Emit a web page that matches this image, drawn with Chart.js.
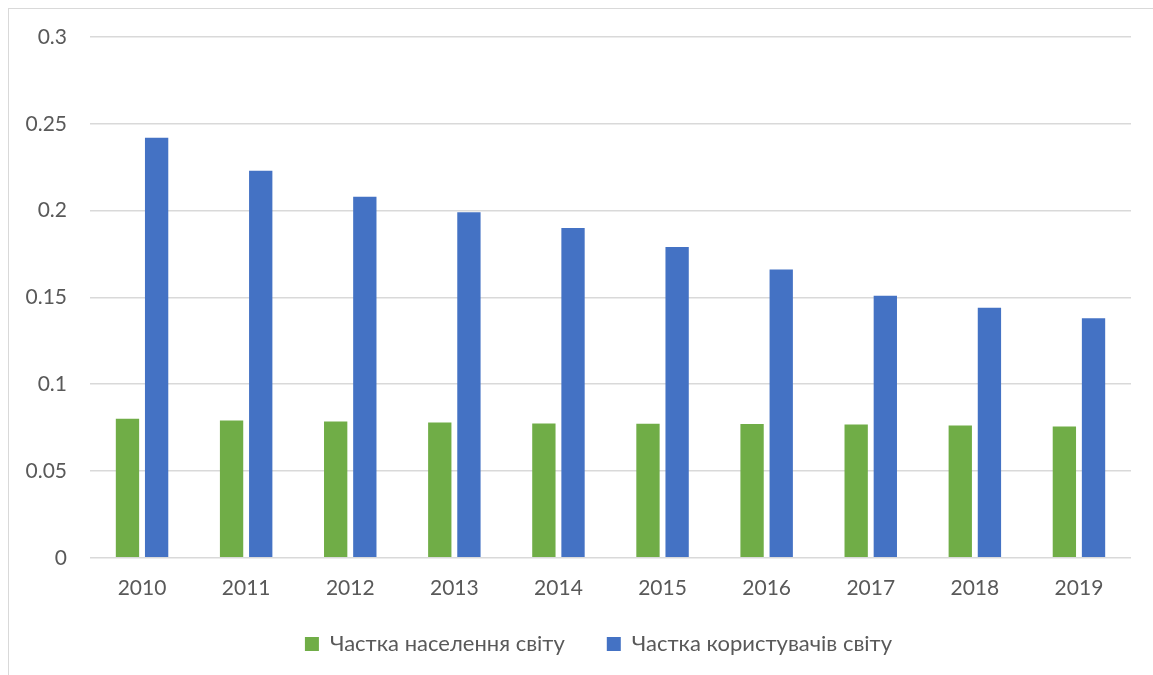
<!DOCTYPE html>
<html lang="uk">
<head>
  <meta charset="UTF-8">
  <title>Частка населення та користувачів світу</title>
  <script src="https://cdn.jsdelivr.net/npm/chart.js"></script>
  <style>
    html, body {
      margin: 0;
      padding: 0;
      background: #ffffff;
      overflow: hidden;
    }

    .frame {
      position: absolute;
      left: 8px;
      top: 8px;
      width: 1160px;
      height: 680px;
      border: 1px solid #d9d9d9;
    }

    .chart-container {
      position: absolute;
      left: 0;
      top: 0;
      width: 1153px;
      height: 675px;
    }
  </style>
</head>
<body>
  <div class="frame"></div>
  <div class="chart-container">
    <canvas id="barChart"></canvas>
  </div>

  <script>
    // Years on the x axis
    const years = ["2010", "2011", "2012", "2013", "2014", "2015", "2016", "2017", "2018", "2019"];

    // Share of world population (green)
    const populationShare = [0.0801, 0.0791, 0.0785, 0.0780, 0.0774, 0.0772, 0.0771, 0.0768, 0.0762, 0.0756];

    // Share of world users (blue)
    const usersShare = [0.242, 0.223, 0.208, 0.199, 0.190, 0.179, 0.166, 0.151, 0.144, 0.138];

    // Y axis ticks as shown in the picture
    const yTicks = [0, 0.05, 0.1, 0.15, 0.2, 0.25, 0.3];

    const seriesNames = ["Частка населення світу", "Частка користувачів світу"];

    const textColor = "#595959";
    const gridColor = "#d9d9d9";
    const fontFamily = "Lato, 'Open Sans', sans-serif";

    // nudge the legend up and to the right, closer to where Excel puts it
    const legendShift = {
      id: "legendShift",
      afterLayout(chart) {
        const lg = chart.legend;
        lg.top -= 20;
        lg.bottom -= 20;
        lg.left += 33;
        lg.right += 33;
      }
    };

    const ctx = document.getElementById("barChart").getContext("2d");

    new Chart(ctx, {
      type: "bar",
      data: {
        labels: years,
        datasets: [
          {
            label: seriesNames[0],
            data: populationShare,
            backgroundColor: "#70ad47",
            categoryPercentage: 0.56,
            barPercentage: 0.8
          },
          {
            label: seriesNames[1],
            data: usersShare,
            backgroundColor: "#4472c4",
            categoryPercentage: 0.56,
            barPercentage: 0.8
          }
        ]
      },
      options: {
        responsive: true,
        maintainAspectRatio: false,
        animation: false,
        layout: {
          padding: { left: 0, right: 22, top: 37, bottom: -10 }
        },
        plugins: {
          legend: {
            position: "bottom",
            labels: {
              boxWidth: 14,
              boxHeight: 14,
              padding: 42,
              color: textColor,
              font: { family: fontFamily, size: 22 }
            }
          },
          tooltip: { enabled: false }
        },
        scales: {
          x: {
            grid: { display: false },
            border: { display: false },
            ticks: {
              color: textColor,
              padding: 10,
              font: { family: fontFamily, size: 21 }
            }
          },
          y: {
            min: 0,
            max: 0.3,
            afterBuildTicks: function(scale) {
              scale.ticks = yTicks.map(v => ({ value: v }));
            },
            afterFit: function(scale) {
              scale.width = 90;
            },
            grid: {
              color: gridColor,
              lineWidth: 1.5,
              drawTicks: false
            },
            border: { display: false },
            ticks: {
              color: textColor,
              padding: 23,
              font: { family: fontFamily, size: 21 },
              callback: function(value) {
                return String(parseFloat(value.toFixed(2)));
              }
            }
          }
        }
      },
      plugins: [legendShift]
    });
  </script>
</body>
</html>
